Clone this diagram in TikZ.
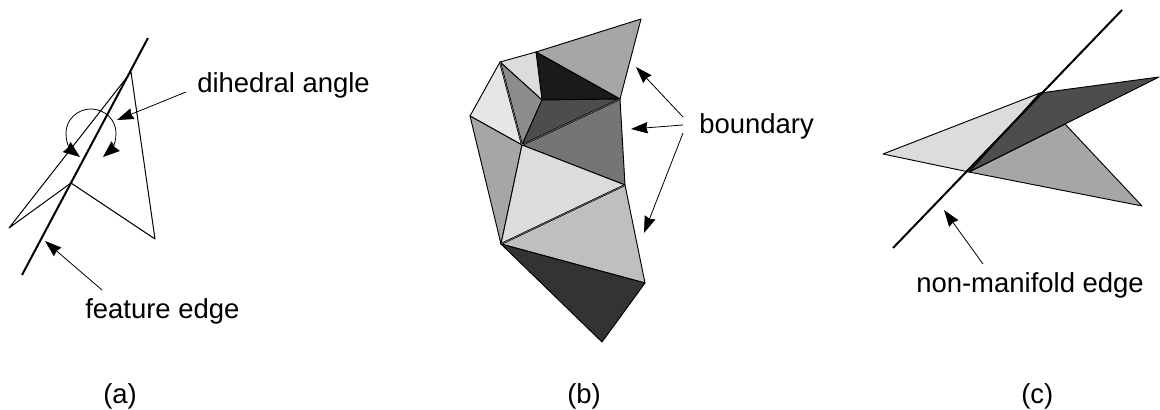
\documentclass[tikz,border=0pt]{standalone}
\usepackage{fontspec}
\setmainfont{Liberation Sans}
\usetikzlibrary{arrows.meta,calc}
\definecolor{faint}{HTML}{E6E6E6}
\definecolor{pale}{HTML}{DCDCDC}
\definecolor{silver}{HTML}{BFBFBF}
\definecolor{mid}{HTML}{A6A6A6}
\definecolor{steel}{HTML}{8C8C8C}
\definecolor{slate}{HTML}{757575}
\definecolor{coal}{HTML}{4D4D4D}
\definecolor{soot}{HTML}{333333}
\definecolor{ink}{HTML}{1A1A1A}
\tikzset{face/.style={draw=black,line width=.7pt,line join=round},wire/.style={draw=black,line width=.75pt,line join=round},featureline/.style={draw=black,line width=1.5pt},seam/.style={draw=black,line width=.5pt,double=steel,double distance=.35pt},pointer/.style={-{Stealth[length=12.5pt,width=8.5pt,inset=1pt]},draw=black,line width=.6pt},lbl/.style={anchor=base west,inner sep=0pt,font=\fontsize{20.6}{24}\selectfont}}
\begin{document}
\begin{tikzpicture}[x=.75pt,y=-.75pt]
\useasboundingbox (0,0) rectangle (1160,410);
% (a)
\coordinate (aApex) at (131,72);
\coordinate (aLeft) at (9,228);
\coordinate (aMid) at (71,183);
\coordinate (aRight) at (155,239);
\coordinate (aTop) at (148,38);
\coordinate (aEnd) at (22,275);
\coordinate (tipL) at (80,157);
\coordinate (tipR) at (103,157);
\coordinate (angleTip) at (117,120);
\coordinate (featureTip) at (45,241);
\draw[wire] (aApex)--(aLeft)--(aMid)--(aRight)--cycle;
\draw[featureline] (aTop)--(aEnd);
\draw[pointer,{Stealth[length=12.5pt,width=9.5pt,inset=1pt]}-{Stealth[length=12.5pt,width=9.5pt,inset=1pt]}] (tipL) .. controls (72,151) and (66,146) .. (66,133) .. controls (66,120) and (77,109) .. (91,109) .. controls (105,109) and (116,120) .. (116,133) .. controls (116,146) and (110,151) .. (tipR);
\node[lbl] (lblAngle) at (197,93) {dihedral angle};
\node[lbl] (lblFeature) at (85,318) {feature edge};
\node[lbl] (lblA) at (103,403) {(a)};
\draw[pointer] ($(lblAngle.base west)+(-11,-1)$)--(angleTip);
\draw[pointer] ($(lblFeature.base west)+(17,-28)$)--(featureTip);
% (b)
\coordinate (bA) at (641,19);
\coordinate (bB) at (536,52);
\coordinate (bC) at (500,62);
\coordinate (bD) at (470,116);
\coordinate (bE) at (522,145);
\coordinate (bF) at (542,100);
\coordinate (bG) at (620,99);
\coordinate (bH) at (625,185);
\coordinate (bI) at (501,244);
\coordinate (bJ) at (645,283);
\coordinate (bK) at (602,342);
\coordinate (bndTipA) at (636,67);
\coordinate (bndTipB) at (631,129);
\coordinate (bndTipC) at (644,233);
\draw[face,fill=mid] (bA)--(bB)--(bG)--cycle;
\draw[face,fill=ink] (bB)--(bF)--(bG)--cycle;
\draw[face,fill=pale] (bC)--(bB)--(bF)--cycle;
\draw[face,fill=steel] (bC)--(bF)--(bE)--cycle;
\draw[face,fill=coal] (bE)--(bF)--(bG)--cycle;
\draw[face,fill=slate] (bE)--(bG)--(bH)--cycle;
\draw[face,fill=faint] (bC)--(bD)--(bE)--cycle;
\draw[face,fill=mid] (bD)--(bE)--(bI)--cycle;
\draw[face,fill=pale] (bE)--(bH)--(bI)--cycle;
\draw[face,fill=silver] (bI)--(bH)--(bJ)--cycle;
\draw[face,fill=soot] (bI)--(bJ)--(bK)--cycle;
\draw[seam] (bC)--(bE)--(bG);
\draw[seam] (bI)--(bH);
\node[lbl] (lblBoundary) at (699,133) {boundary};
\node[lbl] (lblB) at (567,403) {(b)};
\draw[pointer] ($(lblBoundary.base west)+(-16,-16)$)--(bndTipA);
\draw[pointer] ($(lblBoundary.base west)+(-16,-8)$)--(bndTipB);
\draw[pointer] ($(lblBoundary.base west)+(-16,0)$)--(bndTipC);
% (c)
\coordinate (cP) at (883,154);
\coordinate (cQ) at (1040,93);
\coordinate (cR) at (969,172);
\coordinate (cS) at (1159,77);
\coordinate (cT) at (1065,124);
\coordinate (cU) at (1142,206);
\coordinate (cTop) at (1122,10);
\coordinate (cEnd) at (893,248);
\coordinate (edgeTip) at (944,210);
\draw[face,fill=pale] (cP)--(cQ)--(cR)--cycle;
\draw[face,fill=mid] (cR)--(cT)--(cU)--cycle;
\draw[face,fill=coal] (cQ)--(cS)--(cR)--cycle;
\draw[featureline] (cTop)--(cEnd);
\node[lbl] (lblEdge) at (916,292) {non-manifold edge};
\node[lbl] (lblC) at (1021,403) {(c)};
\draw[pointer] ($(lblEdge.base west)+(67,-28)$)--(edgeTip);
\end{tikzpicture}
\end{document}
